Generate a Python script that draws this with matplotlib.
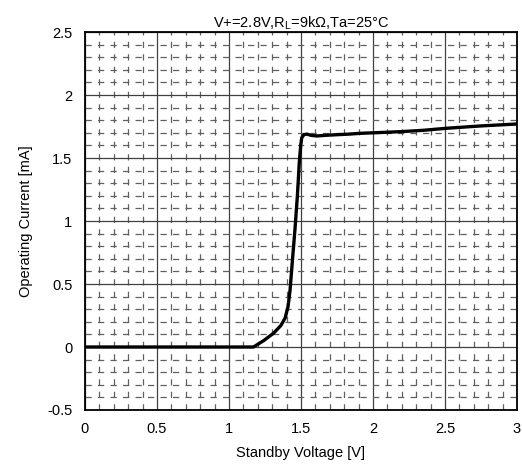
import numpy as np
import matplotlib.pyplot as plt
from matplotlib.ticker import MultipleLocator

plt.rcParams['font.family'] = ['Liberation Sans', 'DejaVu Sans']

# Standby voltage [V] vs operating current [mA]
voltage = [0.0, 0.5, 1.0, 1.17, 1.24, 1.31, 1.36, 1.39, 1.41, 1.424, 1.44,
           1.458, 1.475, 1.488, 1.498, 1.505, 1.52, 1.54, 1.57, 1.61, 1.67,
           1.75, 1.84, 1.91, 2.0, 2.19, 2.35, 2.51, 2.74, 3.0]
current = [0.0, 0.0, 0.0, 0.0, 0.05, 0.11, 0.17, 0.23, 0.32, 0.45, 0.68,
           0.93, 1.2, 1.46, 1.6, 1.66, 1.685, 1.69, 1.68, 1.675, 1.68,
           1.685, 1.69, 1.696, 1.70, 1.709, 1.72, 1.736, 1.754, 1.77]

x_ticks = [0, 0.5, 1, 1.5, 2, 2.5, 3]
x_labels = ['0', '0.5', '1', '1.5', '2', '2.5', '3']
y_ticks = [-0.5, 0, 0.5, 1, 1.5, 2, 2.5]
y_labels = ['-0.5', '0', '0.5', '1', '1.5', '2', '2.5']

fig = plt.figure(figsize=(5.22, 4.73), dpi=100)
ax = fig.add_axes([0.1628, 0.1332, 0.8276, 0.7991])

ax.plot(voltage, current, color='black', lw=2.4, solid_capstyle='butt', zorder=3)

ax.set_xlim(0, 3)
ax.set_ylim(-0.5, 2.5)
ax.set_xticks(x_ticks)
ax.set_xticklabels(x_labels)
ax.set_yticks(y_ticks)
ax.set_yticklabels(y_labels)
ax.xaxis.set_minor_locator(MultipleLocator(0.1))
ax.yaxis.set_minor_locator(MultipleLocator(0.1))

ax.grid(which='major', color='#404040', lw=0.9, linestyle='-')
ax.grid(which='minor', color='#606060', lw=0.9, linestyle=(0, (5, 5)))
ax.tick_params(which='both', length=0, labelsize=10.5, pad=9)

for s in ax.spines.values():
    s.set_linewidth(1.3)
    s.set_color('black')

ax.set_xlabel('Standby Voltage [V]', fontsize=10.5, labelpad=7)
ax.set_ylabel('Operating Current [mA]', fontsize=10.5, labelpad=10)
ax.set_title('V+=2.8V,R$_\\mathregular{L}$=9kΩ,Ta=25°C', fontsize=10.5, pad=3)

fig.savefig('out.png', dpi=100)
